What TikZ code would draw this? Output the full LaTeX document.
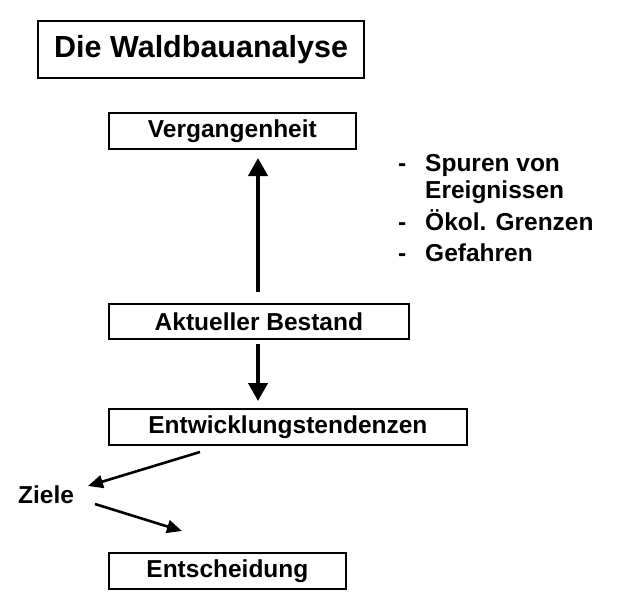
\documentclass[tikz,border=0pt]{standalone}
\usepackage{fontspec}
\setmainfont{Liberation Sans}
\usetikzlibrary{arrows.meta}
\begin{document}
\begin{tikzpicture}[x=1pt,y=-1pt,
  box/.style={draw,line width=1.8pt,anchor=north west,inner sep=0pt,font=\bfseries\fontsize{24.5}{28}\selectfont},
  txt/.style={anchor=west,inner sep=0pt,font=\bfseries\fontsize{24.5}{28}\selectfont},
  item/.style={anchor=base west,inner sep=0pt,font=\bfseries\fontsize{24.5}{28}\selectfont},
  arr/.style={line width=4pt,-{Triangle[length=18pt,width=19pt]}},
  thin arr/.style={line width=2.6pt,-{Triangle[length=15pt,width=13pt]}}]
\useasboundingbox (0,0) rectangle (618,600);

% Boxes
\node[box,line width=2.2pt,minimum width=326pt,minimum height=57pt,font=\bfseries\fontsize{30.5}{34}\selectfont] (title) at (37,20) {Die Waldbauanalyse};
\node[box,minimum width=247pt,minimum height=36pt] (past) at (108,112) {Vergangenheit};
\node[box,minimum width=300pt,minimum height=35pt] (now) at (108,303) {Aktueller Bestand};
\node[box,minimum width=358pt,minimum height=36pt] (trend) at (108,408) {Entwicklungstendenzen};
\node[box,minimum width=237pt,minimum height=36pt] (decide) at (108,552) {Entscheidung};

% Ziele
\node[txt] (goals) at (18,495) {Ziele};

% List
\node[item] at (398,171) {-};
\node[item] at (425,171) {Spuren von};
\node[item] at (425,198) {Ereignissen};
\node[item] at (398,230) {-};
\node[item] at (425,230) {Ökol. Grenzen};
\node[item] at (398,261) {-};
\node[item] at (425,261) {Gefahren};

% Arrows
\coordinate (u1) at (258,292);
\coordinate (u2) at (258,158);
\coordinate (d1) at (258,344);
\coordinate (d2) at (258,401);
\coordinate (t1) at (200,452);
\coordinate (t2) at (88,486);
\coordinate (g1) at (95,504);
\coordinate (g2) at (182,531);
\draw[arr] (u1) -- (u2);
\draw[arr] (d1) -- (d2);
\draw[thin arr] (t1) -- (t2);
\draw[thin arr] (g1) -- (g2);
\end{tikzpicture}
\end{document}
